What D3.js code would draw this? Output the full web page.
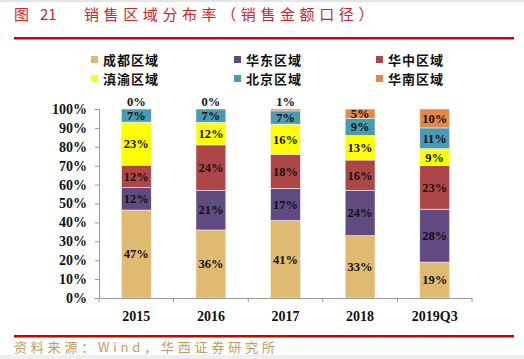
<!DOCTYPE html>
<html>
<head>
<meta charset="utf-8">
<script src="https://cdn.jsdelivr.net/npm/d3@7"></script>
<style>
  body { margin: 0; background: #fff; }
  svg { display: block; }
</style>
</head>
<body>
<svg width="524" height="359"></svg>
<script>
const years = ['2015', '2016', '2017', '2018', '2019Q3'];
const regions = ['成都区域', '华东区域', '华中区域', '滇渝区域', '北京区域', '华南区域'];
const colors = ['#e0ba70', '#5f4b80', '#ad4747', '#ffff00', '#4a9ab2', '#e0894a'];

const chengdu = [47, 36, 41, 33, 19];
const huadong = [12, 21, 17, 24, 28];
const huazhong = [12, 24, 18, 16, 23];
const dianyu = [23, 12, 16, 13, 9];
const beijing = [7, 7, 7, 9, 11];
const huanan = [0, 0, 1, 5, 10];

const series = [chengdu, huadong, huazhong, dianyu, beijing, huanan];
const yTicks = [0, 0.1, 0.2, 0.3, 0.4, 0.5, 0.6, 0.7, 0.8, 0.9, 1];

const table = years.map((y, i) => {
  const row = { year: y };
  regions.forEach((r, j) => { row[r] = series[j][i]; });
  return row;
});

const svg = d3.select('svg');
const width = +svg.attr('width');
const fontCjk = '"Noto Sans CJK SC", sans-serif';
const fontSerif = '"Liberation Serif", "Times New Roman", serif';

// header & footer
svg.append('rect').attr('x', 0).attr('y', 0).attr('width', width).attr('height', 2).attr('fill', '#e6e6e6');
svg.append('text')
  .attr('x', 14).attr('y', 20)
  .attr('fill', '#c8282c')
  .style('font-family', fontCjk)
  .style('font-size', '15px')
  .text('图');
svg.append('text')
  .attr('x', 40).attr('y', 20)
  .attr('fill', '#c8282c')
  .style('font-family', fontCjk)
  .style('font-size', '15px')
  .text('21');
svg.append('text')
  .attr('x', 84).attr('y', 20)
  .attr('fill', '#c8282c')
  .style('font-family', fontCjk)
  .style('font-size', '15px')
  .style('letter-spacing', '4.6px')
  .text('销售区域分布率（销售金额口径）');
svg.append('rect').attr('x', 14).attr('y', 37).attr('width', 500).attr('height', 2.5).attr('fill', '#d40000');
svg.append('rect').attr('x', 14).attr('y', 335).attr('width', 500).attr('height', 2.5).attr('fill', '#d40000');
svg.append('text')
  .attr('x', 14).attr('y', 352)
  .attr('fill', '#c49a62')
  .style('font-family', fontCjk)
  .style('font-size', '13px')
  .style('letter-spacing', '3.8px')
  .text('资料来源：Wind，华西证券研究所');
svg.append('rect').attr('x', 0).attr('y', 355).attr('width', width).attr('height', 4).attr('fill', '#eeeeee');

// legend
const legendPos = [[91, 60], [234, 60], [376, 60], [91, 79], [234, 79], [376, 79]];
const legend = svg.append('g').selectAll('g').data(regions).join('g')
  .attr('transform', (d, i) => `translate(${legendPos[i][0]},${legendPos[i][1]})`);
legend.append('rect')
  .attr('x', 0).attr('y', -4).attr('width', 7).attr('height', 7)
  .attr('fill', (d, i) => colors[i]);
legend.append('text')
  .attr('x', 12).attr('y', 0).attr('dy', '0.35em')
  .style('font-family', fontCjk)
  .style('font-weight', 'bold')
  .style('font-size', '13px')
  .style('letter-spacing', '1px')
  .attr('fill', '#111')
  .text(d => d);

// plot
const margin = { left: 99, top: 109 };
const innerWidth = 373;
const innerHeight = 189;
const g = svg.append('g').attr('transform', `translate(${margin.left},${margin.top})`);

const xScale = d3.scaleBand().domain(years).range([0, innerWidth]).paddingInner(0.6).paddingOuter(0.3);
const yScale = d3.scaleLinear().domain([0, 1]).range([innerHeight, 0]);

const stacked = d3.stack().keys(regions).offset(d3.stackOffsetExpand)(table);

const layers = g.selectAll('.layer').data(stacked).join('g')
  .attr('class', 'layer')
  .attr('fill', (d, i) => colors[i]);

layers.selectAll('rect').data(d => d).join('rect')
  .attr('x', d => xScale(d.data.year))
  .attr('y', d => yScale(d[1]))
  .attr('width', xScale.bandwidth())
  .attr('height', d => yScale(d[0]) - yScale(d[1]))
  .attr('stroke', '#f4eeee')
  .attr('stroke-width', 0.6);

// value labels, kept in their own group on top of the bars
const labelData = stacked.flatMap(layer => layer.map(d => ({
  year: d.data.year,
  value: d.data[layer.key],
  y0: d[0],
  y1: d[1]
})));

g.append('g').attr('class', 'labels')
  .selectAll('text').data(labelData).join('text')
    .attr('x', d => xScale(d.year) + xScale.bandwidth() / 2)
    .attr('y', d => d.value <= 1 ? yScale(1) - 7.5 : (yScale(d.y0) + yScale(d.y1)) / 2)
    .attr('dy', '0.35em')
    .attr('text-anchor', 'middle')
    .style('font-family', fontSerif)
    .style('font-weight', 'bold')
    .style('font-size', '12.5px')
    .attr('fill', '#111')
    .text(d => d.value + '%');

// y axis
const yAxis = d3.axisLeft(yScale).tickValues(yTicks).tickFormat(d3.format('.0%')).tickSize(4).tickPadding(8);
const yAxisG = g.append('g').call(yAxis);
yAxisG.select('.domain').attr('stroke', '#999');
yAxisG.selectAll('.tick line').attr('stroke', '#999');
yAxisG.selectAll('text')
  .style('font-family', fontSerif)
  .style('font-weight', 'bold')
  .style('font-size', '14px')
  .attr('fill', '#111');

// x axis
const xAxisG = g.append('g').attr('transform', `translate(0,${innerHeight})`)
  .call(d3.axisBottom(xScale).tickSize(0).tickPadding(13));
xAxisG.select('.domain').attr('stroke', '#999');
xAxisG.selectAll('text')
  .style('font-family', fontSerif)
  .style('font-weight', 'bold')
  .style('font-size', '14px')
  .attr('fill', '#111');

// tick marks between categories
const bounds = d3.range(years.length + 1).map(i => i * innerWidth / years.length);
xAxisG.selectAll('.sep').data(bounds).join('line')
  .attr('class', 'sep')
  .attr('x1', d => d).attr('x2', d => d)
  .attr('y1', 0).attr('y2', 4)
  .attr('stroke', '#999');
</script>
</body>
</html>
